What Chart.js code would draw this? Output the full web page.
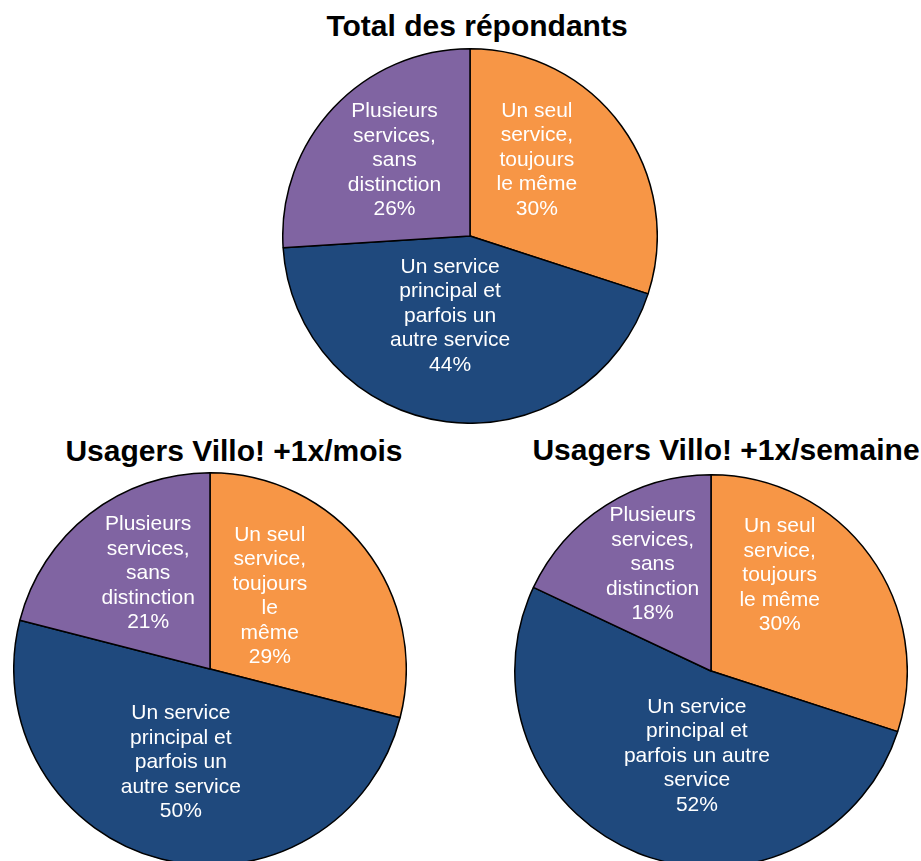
<!DOCTYPE html>
<html>
<head>
<meta charset="utf-8">
<script src="https://cdn.jsdelivr.net/npm/chart.js@4"></script>
<style>
  html, body { margin: 0; padding: 0; background: #fff; overflow: hidden; }
  body { width: 921px; height: 861px; position: relative; }
  .title {
    position: absolute; white-space: nowrap; transform: translateX(-50%);
    font: bold 30px "Liberation Sans", Arial, sans-serif; line-height: 30px; color: #000;
  }
  canvas { position: absolute; }
</style>
</head>
<body>
<div class="title" style="left:477px; top:11px;">Total des répondants</div>
<div class="title" style="left:234px; top:436px;">Usagers Villo! +1x/mois</div>
<div class="title" style="left:726px; top:435px;">Usagers Villo! +1x/semaine</div>

<canvas id="pieTotal" width="376" height="376" style="left:282px; top:48px;"></canvas>
<canvas id="pieMois" width="394" height="394" style="left:13px; top:472px;"></canvas>
<canvas id="pieSemaine" width="394" height="394" style="left:514px; top:474px;"></canvas>

<script>
// Catégories (ordre des parts, dans le sens horaire depuis le haut)
const categories = [
    'Un seul service, toujours le même',
    'Un service principal et parfois un autre service',
    'Plusieurs services, sans distinction'
];
const sliceColors = ['#F79646', '#1F497D', '#8064A2'];

// Valeurs en %
const totalValues = [30, 44, 26];
const moisValues = [29, 50, 21];
const semaineValues = [30, 52, 18];

// Texte des étiquettes (retours à la ligne comme dans l'original)
const totalLabels = [
    ['Un seul', 'service,', 'toujours', 'le même'],
    ['Un service', 'principal et', 'parfois un', 'autre service'],
    ['Plusieurs', 'services,', 'sans', 'distinction']
];
const moisLabels = [
    ['Un seul', 'service,', 'toujours', 'le', 'même'],
    ['Un service', 'principal et', 'parfois un', 'autre service'],
    ['Plusieurs', 'services,', 'sans', 'distinction']
];
const semaineLabels = [
    ['Un seul', 'service,', 'toujours', 'le même'],
    ['Un service', 'principal et', 'parfois un autre', 'service'],
    ['Plusieurs', 'services,', 'sans', 'distinction']
];

// Placement des étiquettes : décalage d'angle (degrés) et fraction du rayon
const totalPlacement = { shift: [-12.6, 6.8, 1.8], radius: [0.54, 0.44, 0.57] };
const moisPlacement = { shift: [-12.8, 2.9, 4.9], radius: [0.48, 0.50, 0.58] };
const semainePlacement = { shift: [-18.3, -12.2, 3.7], radius: [0.60, 0.44, 0.62] };

// Plugin : texte blanc centré dans chaque part
const sliceLabels = {
    id: 'sliceLabels',
    afterDatasetsDraw(chart, args, opts) {
        const ctx = chart.ctx;
        const meta = chart.getDatasetMeta(0);
        const values = chart.data.datasets[0].data;
        const lineHeight = 24.5;
        ctx.save();
        ctx.font = '21px "Liberation Sans", Arial, sans-serif';
        ctx.fillStyle = '#fff';
        ctx.textAlign = 'center';
        ctx.textBaseline = 'middle';
        meta.data.forEach((arc, i) => {
            const p = arc.getProps(['x', 'y', 'startAngle', 'endAngle', 'outerRadius'], true);
            const angle = (p.startAngle + p.endAngle) / 2 + opts.placement.shift[i] * Math.PI / 180;
            const r = p.outerRadius * opts.placement.radius[i];
            const cx = p.x + Math.cos(angle) * r;
            const cy = p.y + Math.sin(angle) * r;
            const lines = opts.lines[i].concat([values[i] + '%']);
            const top = cy - (lines.length - 1) * lineHeight / 2;
            lines.forEach((line, j) => ctx.fillText(line, cx, top + j * lineHeight));
        });
        ctx.restore();
    }
};

function drawPie(canvasId, values, lines, placement) {
    const ctx = document.getElementById(canvasId).getContext('2d');
    return new Chart(ctx, {
        type: 'pie',
        data: {
            labels: categories,
            datasets: [{
                data: values,
                backgroundColor: sliceColors,
                borderColor: '#000',
                borderWidth: 1.5
            }]
        },
        options: {
            responsive: false,
            animation: false,
            devicePixelRatio: 1,
            layout: { padding: 0 },
            plugins: {
                legend: { display: false },
                title: { display: false },
                tooltip: { enabled: false },
                sliceLabels: { lines: lines, placement: placement }
            }
        },
        plugins: [sliceLabels]
    });
}

drawPie('pieTotal', totalValues, totalLabels, totalPlacement);
drawPie('pieMois', moisValues, moisLabels, moisPlacement);
drawPie('pieSemaine', semaineValues, semaineLabels, semainePlacement);
</script>
</body>
</html>
